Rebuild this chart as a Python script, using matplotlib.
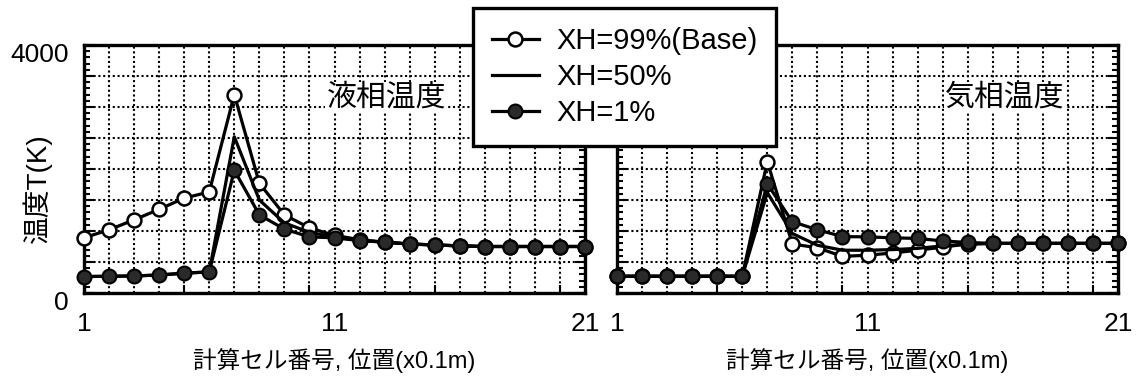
import numpy as np
import matplotlib
matplotlib.use('Agg')
import matplotlib.pyplot as plt
import matplotlib.transforms as mtrans
from matplotlib.ticker import MultipleLocator, FuncFormatter

plt.rcParams['font.family'] = ['Liberation Sans', 'Noto Sans CJK JP', 'DejaVu Sans']
plt.rcParams['font.size'] = 19

# cell number 1..21
cells = np.arange(1, 22)

# liquid temperature (K)
liq_99 = [890, 1020, 1180, 1350, 1530, 1630, 3200, 1770, 1260, 1050, 930,
          860, 820, 790, 775, 760, 750, 750, 750, 750, 750]
liq_50 = [265, 270, 275, 290, 320, 340, 2520, 1500, 1130, 980, 900,
          850, 820, 790, 775, 760, 750, 750, 750, 750, 750]
liq_1 = [265, 270, 275, 290, 320, 340, 1980, 1260, 1030, 905, 890,
         845, 820, 790, 775, 760, 750, 750, 750, 750, 750]

# gas temperature (K)
gas_99 = [270, 270, 270, 270, 270, 270, 2120, 790, 730, 590, 610,
          645, 690, 740, 790, 800, 800, 800, 800, 800, 800]
gas_50 = [270, 270, 270, 270, 270, 270, 1620, 960, 770, 690, 690,
          700, 720, 760, 790, 800, 800, 800, 800, 800, 800]
gas_1 = [270, 270, 270, 270, 270, 270, 1760, 1150, 1020, 910, 905,
         890, 880, 840, 815, 800, 800, 800, 800, 800, 800]

labels = ['XH=99%(Base)', 'XH=50%', 'XH=1%']
xlab = '計算セル番号, 位置(x0.1m)'

fig = plt.figure(figsize=(11.38, 3.82), dpi=100)
ax1 = fig.add_axes([84/1138, 1-293/382, 501/1138, 248/382])
ax2 = fig.add_axes([617/1138, 1-293/382, 501/1138, 248/382])

lw = 2.3
gs = (0, (1, 1.3))
for ax, d99, d50, d1 in [(ax1, liq_99, liq_50, liq_1), (ax2, gas_99, gas_50, gas_1)]:
    ax.plot(cells, d99, color='black', lw=lw, marker='o', ms=10, mfc='white',
            mec='black', mew=1.8, clip_on=False, zorder=3, label=labels[0])
    ax.plot(cells, d50, color='black', lw=lw, clip_on=False, zorder=4, label=labels[1])
    ax.plot(cells, d1, color='black', lw=lw, marker='o', ms=10, mfc='#2a2a2a',
            mec='black', mew=1.5, clip_on=False, zorder=5, label=labels[2])

    ax.set_xlim(1, 21)
    ax.set_ylim(0, 4000)
    ax.set_xticks([1, 11, 21])
    ax.xaxis.set_minor_locator(MultipleLocator(1))
    ax.tick_params(axis='x', which='both', length=0, pad=14)
    ax.yaxis.set_major_locator(MultipleLocator(500))
    ax.yaxis.set_minor_locator(MultipleLocator(100))
    ax.tick_params(axis='y', which='both', direction='in', left=True, right=True,
                   width=1.5, pad=11)
    ax.tick_params(axis='y', which='major', length=7)
    ax.tick_params(axis='y', which='minor', length=4)
    ax.grid(True, which='major', axis='y', color='black', ls=gs, lw=1.5)
    ax.grid(True, which='both', axis='x', color='black', ls=gs, lw=1.5)
    for s in ax.spines.values():
        s.set_linewidth(2.4)
    # tick marks every 5 cells on the bottom edge
    sec = ax.secondary_xaxis('bottom')
    sec.set_xticks([5, 10, 15, 20])
    sec.tick_params(direction='in', length=6, width=1.5, labelbottom=False)
    sec.spines['bottom'].set_visible(False)
    ax.set_xlabel(xlab, fontsize=17, labelpad=8)

ax1.yaxis.set_major_formatter(FuncFormatter(lambda v, p: '%d' % v if v in (0, 4000) else ''))
ax2.yaxis.set_major_formatter(FuncFormatter(lambda v, p: ''))
shift = mtrans.ScaledTranslation(0, -8/100, fig.dpi_scale_trans)
for t in ax1.get_yticklabels():
    t.set_transform(t.get_transform() + shift)

fig.text(37/1138, 1-188/382, '温度T(K)', fontsize=20, rotation=90,
         ha='center', va='center')

ax1.text(10.7, 3150, '液相温度', fontsize=21.5, va='center', ha='left', zorder=6,
         bbox=dict(facecolor='white', edgecolor='none', pad=1))
ax2.text(14.1, 3150, '気相温度', fontsize=21.5, va='center', ha='left', zorder=6,
         bbox=dict(facecolor='white', edgecolor='none', pad=1))

h, l = ax1.get_legend_handles_labels()
leg = fig.legend(h, l, loc='upper left', bbox_to_anchor=(473/1138, 1-8/382),
                 fancybox=False, framealpha=1, edgecolor='black',
                 handlelength=1.6, handletextpad=0.6, labelspacing=0.28,
                 borderpad=0.65, borderaxespad=0, fontsize=21)
leg.get_frame().set_linewidth(2.4)

fig.savefig('out.png', dpi=100)
